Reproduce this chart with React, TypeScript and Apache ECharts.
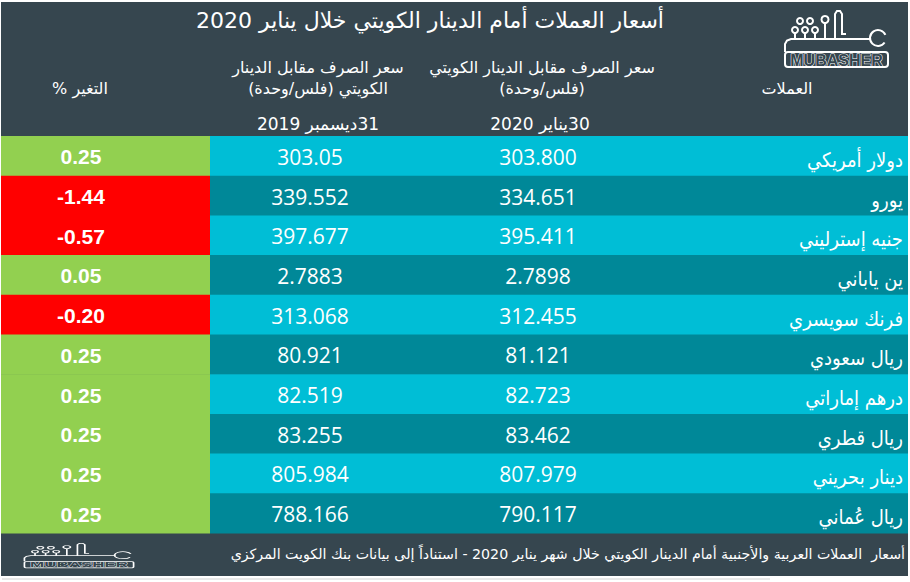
import React, { useEffect, useRef } from 'react';
import * as echarts from 'echarts';

// ---- data ----
const currencies = ['دولار أمريكي', 'يورو', 'جنيه إسترليني', 'ين ياباني', 'فرنك سويسري', 'ريال سعودي', 'درهم إماراتي', 'ريال قطري', 'دينار بحريني', 'ريال عُماني'];
const rateJan30 = ['303.800', '334.651', '395.411', '2.7898', '312.455', '81.121', '82.723', '83.462', '807.979', '790.117'];
const rateDec31 = ['303.05', '339.552', '397.677', '2.7883', '313.068', '80.921', '82.519', '83.255', '805.984', '788.166'];
const changePct = [0.25, -1.44, -0.57, 0.05, -0.2, 0.25, 0.25, 0.25, 0.25, 0.25];

const titleText = 'أسعار العملات أمام الدينار الكويتي خلال يناير 2020';
const headCurrency = 'العملات';
const headJan = ['سعر الصرف مقابل الدينار الكويتي', '(فلس/وحدة)', '30يناير 2020'];
const headDec = ['سعر الصرف مقابل الدينار', 'الكويتي (فلس/وحدة)', '31ديسمبر 2019'];
const headChange = 'التغير %';
const footerText = 'أسعار  العملات العربية والأجنبية أمام الدينار الكويتي خلال شهر يناير 2020 - استناداً إلى بيانات بنك الكويت المركزي';

// ---- styles ----
const DARK = '#36464f';
const LIGHT = '#00bed6';
const TEAL = '#008898';
const GREEN = '#92d050';
const RED = '#ff0000';
const AR_FONT = '"DejaVu Sans", sans-serif';
const AR_COND = '"DejaVu Sans Condensed", "DejaVu Sans", sans-serif';
const NUM_FONT = '"Open Sans", "Liberation Sans", sans-serif';
const BOLD_FONT = '"Liberation Sans", sans-serif';
const CHANGE_W = 209;

const rtl = (s: string) => '\u202B' + s + '\u202C';

function arText(x: number, y: number, text: string, size: number, align = 'center', family = AR_FONT) {
  return {
    type: 'text',
    x,
    y,
    style: { text: rtl(text), fill: '#ffffff', fontSize: size, fontFamily: family, align, verticalAlign: 'middle' },
  };
}

function logo(x: number, y: number, sx: number, sy: number, lw: number) {
  const st = { stroke: '#ffffff', lineWidth: lw, fill: 'none' };
  const children: any[] = [
    { type: 'rect', shape: { x: 7, y: 44, width: 103, height: 15, r: 3 }, style: { ...st } },
    {
      type: 'text', x: 58.5, y: 52,
      style: { text: 'MUBASHER', fill: DARK, stroke: '#ffffff', lineWidth: 1, fontSize: 16, fontWeight: 'bold', fontFamily: BOLD_FONT, align: 'center', verticalAlign: 'middle' },
    },
    { type: 'polyline', shape: { points: [[7, 44], [7, 36], [9, 32.5], [13, 31], [93, 31]] }, style: st },
    { type: 'polyline', shape: { points: [[57, 31], [57, 6], [59, 3], [62, 3], [64, 6], [64, 26], [68, 26]] }, style: st },
    { type: 'arc', shape: { cx: 100, cy: 30, r: 8, startAngle: -0.4, endAngle: 0.6, clockwise: false }, style: st },
    { type: 'line', shape: { x1: 47, y1: 31, x2: 47, y2: 16 }, style: st },
    { type: 'circle', shape: { cx: 47, cy: 11.5, r: 3.5 }, style: st },
    { type: 'circle', shape: { cx: 22, cy: 13, r: 3 }, style: st },
    { type: 'circle', shape: { cx: 32, cy: 13, r: 3 }, style: st },
  ];
  [17, 27, 37].forEach((sxp) => {
    children.push({ type: 'line', shape: { x1: sxp, y1: 31, x2: sxp, y2: 25 }, style: st });
    children.push({ type: 'circle', shape: { cx: sxp, cy: 22, r: 3 }, style: st });
  });
  return { type: 'group', x, y, scaleX: sx, scaleY: sy, children };
}

export default function App() {
  const ref = useRef<HTMLDivElement>(null);
  useEffect(() => {
    if (!ref.current) return;
    const chart = echarts.init(ref.current, undefined, { renderer: 'svg' });
    const option: any = {
      animation: false,
      backgroundColor: '#ffffff',
      grid: { left: 1, right: 2, top: 136, bottom: 49 },
      xAxis: { type: 'value', min: 0, max: 1, show: false },
      yAxis: { type: 'category', data: currencies, inverse: true, show: false },
      graphic: [
        { type: 'rect', z: -10, shape: { x: 1, y: 2, width: 907, height: 574 }, style: { fill: DARK } },
        { type: 'line', shape: { x1: 2, y1: 579, x2: 770, y2: 579 }, style: { stroke: '#d0d0d0', lineWidth: 1 } },
        arText(430, 20, titleText, 22),
        arText(787, 88, headCurrency, 16),
        arText(542, 67, headJan[0], 16),
        arText(542, 88, headJan[1], 16),
        arText(540, 124, headJan[2], 17),
        arText(318, 67, headDec[0], 16),
        arText(318, 88, headDec[1], 16),
        arText(318, 124, headDec[2], 17),
        arText(80, 88, headChange, 16),
        arText(905, 554, footerText, 14.2, 'right'),
        logo(778, 8, 1, 1, 2),
        logo(17, 542, 1.06, 0.44, 1.6),
      ],
      series: [
        {
          type: 'custom',
          data: currencies.map((c, i) => [0, i, changePct[i]]),
          renderItem: (params: any, api: any) => {
            const i = params.dataIndex;
            const p = api.coord([0, i]);
            const yc = p[1];
            const h = api.size([0, 1])[1];
            const cs = params.coordSys;
            const top = yc - h / 2;
            const chg = changePct[i];
            const rowFill = i % 2 === 0 ? LIGHT : TEAL;
            const numText = (text: string, x: number, bold = false) => ({
              type: 'text',
              x,
              y: yc + 1,
              style: {
                text,
                fill: '#ffffff',
                fontSize: 21,
                fontWeight: bold ? 'bold' : 'normal',
                fontFamily: bold ? BOLD_FONT : NUM_FONT,
                align: 'center',
                verticalAlign: 'middle',
              },
            });
            return {
              type: 'group',
              children: [
                { type: 'rect', shape: { x: cs.x, y: top, width: CHANGE_W, height: h + 0.6 }, style: { fill: chg >= 0 ? GREEN : RED } },
                { type: 'rect', shape: { x: cs.x + CHANGE_W, y: top, width: cs.width - CHANGE_W, height: h + 0.6 }, style: { fill: rowFill } },
                numText(chg.toFixed(2), cs.x + 80, true),
                numText(rateDec31[i], cs.x + 309),
                numText(rateJan30[i], cs.x + 537),
                {
                  type: 'text',
                  x: cs.x + cs.width - 5,
                  y: yc + 4,
                  style: { text: rtl(currencies[i]), fill: '#ffffff', fontSize: 20, fontFamily: AR_COND, align: 'right', verticalAlign: 'middle' },
                },
              ],
            };
          },
        },
      ],
    };
    chart.setOption(option);
    return () => chart.dispose();
  }, []);
  return <div ref={ref} style={{ position: 'fixed', left: 0, top: 0, width: 910, height: 582 }} />;
}
